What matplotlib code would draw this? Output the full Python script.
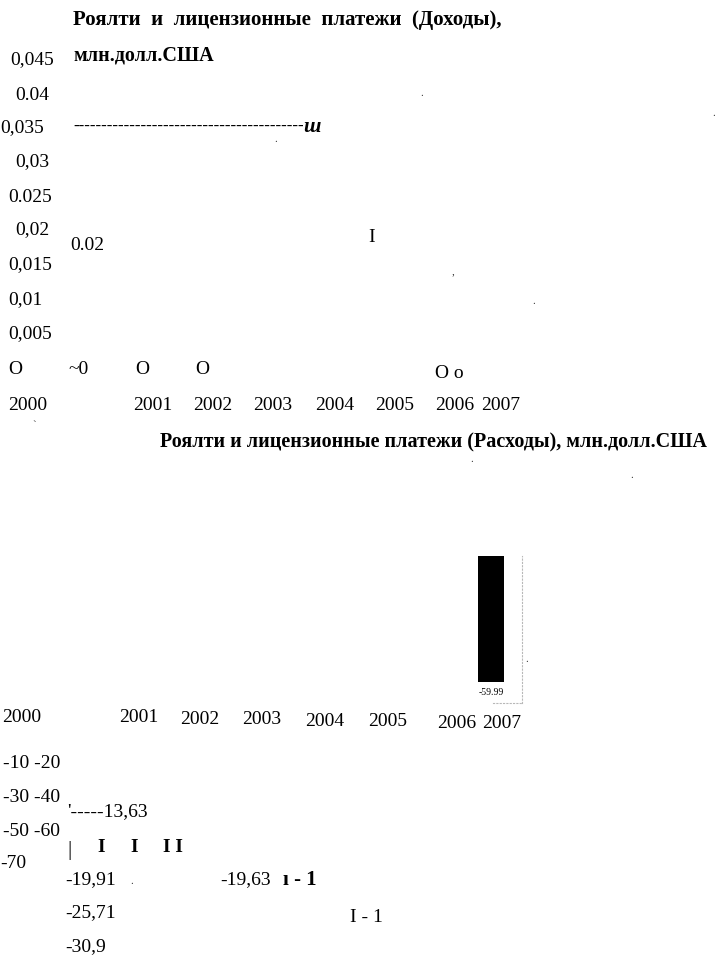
import matplotlib
matplotlib.use("Agg")
from matplotlib import pyplot as plt

plt.rcParams['font.family'] = ['Liberation Serif', 'DejaVu Serif']

# values and labels as they appear on the scanned page
years = [2000, 2001, 2002, 2003, 2004, 2005, 2006, 2007]
income_title = "Роялти  и  лицензионные  платежи  (Доходы),"
income_unit = "млн.долл.США"
income_ticks = ["0,045", "0.04", "0,035", "0,03", "0.025", "0,02", "0,015", "0,01", "0,005", "O"]
income_labels = ["0.02", "~0", "O", "O", "I", "O o"]
expense_title = "Роялти и лицензионные платежи (Расходы), млн.долл.США"
expense_ticks = ["-10 -20", "-30 -40", "-50 -60", "-70"]
expense_values = [-13.63, -19.91, -25.71, -30.9, -19.63]
bar_years = [2007]
bar_values = [-59.99]

# page layout, in pixels from the top left corner of the scan
W, H = 715, 957
income_tick_xy = [(10, 60), (15, 95), (0, 128), (15, 162), (8, 197),
                  (15, 230), (8, 265), (8, 300), (8, 334), (8, 370)]
income_label_xy = [(70, 246), (68, 370), (135, 370), (195, 370), (368, 238), (435, 374)]
top_year_x = [8, 133, 193, 253, 315, 375, 435, 481]
bottom_year_x = [2, 119, 180, 242, 305, 368, 437, 482]
bottom_year_y = [717, 718, 719, 720, 721, 722, 724, 724]
expense_tick_xy = [(3, 763), (3, 797), (3, 831), (0, 864)]
expense_label_xy = [(67, 812), (65, 880), (65, 913), (65, 947), (220, 880)]

fig = plt.figure(figsize=(W / 100, H / 100), dpi=100)

# the one real bar (2007), drawn on its own axes (466..522 px wide, 556..703 px high)
bx = fig.add_axes([466 / W, 1 - 703 / H, (522 - 466) / W, (703 - 556) / H])
bars = bx.bar(bar_years, bar_values, width=0.52, color='black')
bx.bar_label(bars, fmt='%.2f', padding=4, fontsize=7)
bx.set_xlim(2006.5, 2007.62)
bx.set_ylim(-70, 0)
bx.set_xticks([])
bx.set_yticks([])
bx.patch.set_visible(False)
for side in ['top', 'left']:
    bx.spines[side].set_visible(False)
for side in ['right', 'bottom']:
    bx.spines[side].set_color('#b8b8b8')
    bx.spines[side].set_linestyle((0, (1, 2)))
    bx.spines[side].set_linewidth(0.8)
bx.spines['bottom'].set_bounds(2007.04, 2007.62)

# everything else on the page is loose text
ax = fig.add_axes([0, 0, 1, 1])
ax.set_xlim(0, W)
ax.set_ylim(H, 0)
ax.axis('off')

fs = 14
ax.text(73, 20, income_title, fontsize=15, fontweight='bold', va='center')
ax.text(73, 55, income_unit, fontsize=14.5, fontweight='bold', va='center')
for lab, (x, y) in zip(income_ticks, income_tick_xy):
    ax.text(x, y, lab, fontsize=fs, va='center')
ax.text(73, 127, "-" * 41, fontsize=12, fontweight='bold', va='center')
ax.text(303, 127, "ш", fontsize=15, fontweight='bold', style='italic', va='center')
for lab, (x, y) in zip(income_labels, income_label_xy):
    ax.text(x, y, lab, fontsize=fs, va='center')
for yr, x in zip(years, top_year_x):
    ax.text(x, 406, str(yr), fontsize=fs, va='center')

ax.text(160, 442, expense_title, fontsize=14.5, fontweight='bold', va='center')
for yr, x, y in zip(years, bottom_year_x, bottom_year_y):
    ax.text(x, y, str(yr), fontsize=fs, va='center')
for lab, (x, y) in zip(expense_ticks, expense_tick_xy):
    ax.text(x, y, lab, fontsize=fs, va='center')
for i, (v, (x, y)) in enumerate(zip(expense_values, expense_label_xy)):
    lab = ('%g' % v).replace('.', ',')
    if i == 0:
        lab = "'----" + lab
    ax.text(x, y, lab, fontsize=fs, va='center')

# broken tick marks left over from the scan
ax.text(67, 850, "|", fontsize=15, va='center')
for x, s in [(97, "I"), (130, "I"), (163, "I I")]:
    ax.text(x, 848, s, fontsize=fs, fontweight='bold', va='center')
ax.text(283, 880, "ı - 1", fontsize=15, fontweight='bold', va='center')
ax.text(350, 918, "I - 1", fontsize=fs, va='center')

# specks
for x, y, s in [(452, 272, ","), (532, 302, "."), (130, 882, "."), (32, 425, "`"),
                (420, 94, "."), (712, 114, "."), (470, 460, "."), (630, 476, "."),
                (274, 139, "."), (525, 660, ".")]:
    ax.text(x, y, s, fontsize=8, va='center', color='#333333')

fig.savefig('out.png', dpi=100)
